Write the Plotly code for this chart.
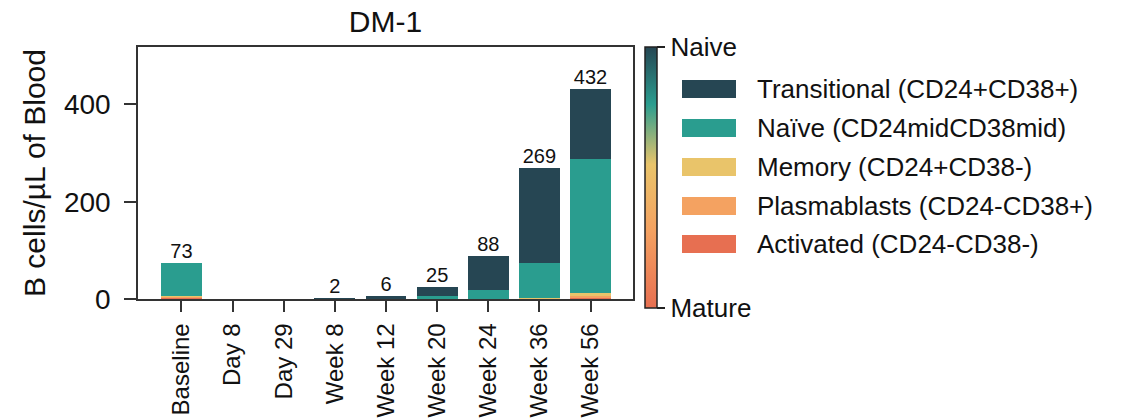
import plotly.graph_objects as go

# Time points and B-cell subset counts (cells/µL of blood)
timepoints = ["Baseline", "Day 8", "Day 29", "Week 8", "Week 12",
              "Week 20", "Week 24", "Week 36", "Week 56"]
activated = [3, 0, 0, 0, 0, 0, 0, 0, 3]
plasmablasts = [3, 0, 0, 0, 0, 0, 0, 0, 5]
memory = [1, 0, 0, 0, 0, 0, 1, 2, 4]
naive = [66, 0, 0, 0, 1, 6, 17, 73, 275]
transitional = [0, 0, 0, 2, 5, 19, 70, 194, 145]

subset_names = ["Activated (CD24-CD38-)", "Plasmablasts (CD24-CD38+)",
                "Memory (CD24+CD38-)", "Naïve (CD24midCD38mid)",
                "Transitional (CD24+CD38+)"]
subset_values = [activated, plasmablasts, memory, naive, transitional]
subset_colors = ["#e76f51", "#f4a261", "#e9c46a", "#2a9d8f", "#264653"]

FONT = "Liberation Sans, Arial, sans-serif"
TXT = "#111111"

# Plot-area edges in pixels
X0, X1, Y0, Y1 = 138, 633, 47, 299


def px(v):
    return (v - X0) / (X1 - X0)


def py(v):
    return 1 - (v - Y0) / (Y1 - Y0)


fig = go.Figure()

# Stacked bars, most mature subset at the bottom
for name, vals, col in zip(subset_names, subset_values, subset_colors):
    fig.add_trace(go.Bar(x=timepoints, y=vals, name=name, marker_color=col,
                         marker_line_width=0, width=0.8, showlegend=False))

# Total count above each non-empty bar
totals = [sum(v) for v in zip(*subset_values)]
lab_x = [t for t, s in zip(timepoints, totals) if s > 0]
lab_y = [s for s in totals if s > 0]
fig.add_trace(go.Scatter(x=lab_x, y=lab_y, mode="text",
                         text=[str(s) for s in lab_y], textposition="top center",
                         textfont=dict(family=FONT, size=20, color=TXT),
                         showlegend=False, hoverinfo="skip"))

# Maturation colour bar (Naive -> Mature)
maturation_scale = [[0.0, "#e76f51"], [0.3, "#f4a261"], [0.55, "#e9c46a"],
                    [0.78, "#2a9d8f"], [1.0, "#264653"]]
fig.add_trace(go.Scatter(
    x=[timepoints[0]], y=[0], mode="markers", showlegend=False, hoverinfo="skip",
    marker=dict(size=0.1, opacity=0, color=[0], cmin=0, cmax=1,
                colorscale=maturation_scale, showscale=True,
                colorbar=dict(x=px(645), xanchor="left",
                              y=py(177.5), yanchor="middle",
                              thickness=12, lenmode="pixels", len=261,
                              xpad=0, ypad=0,
                              outlinecolor="#222", outlinewidth=1.5,
                              tickvals=[0, 1], ticktext=["Mature", "Naive"],
                              ticks="outside", ticklen=8, tickwidth=1.5,
                              tickcolor="#222",
                              tickfont=dict(family=FONT, size=26, color=TXT)))))

# Legend entries: colour swatch and label
legend_order = list(range(len(subset_names)))[::-1]
row_y = [89, 128, 167, 206, 244]
for ry, idx in zip(row_y, legend_order):
    fig.add_shape(type="rect", xref="paper", yref="paper",
                  x0=px(682), x1=px(736), y0=py(ry + 9), y1=py(ry - 9),
                  fillcolor=subset_colors[idx], line_width=0)
    fig.add_annotation(xref="paper", yref="paper", x=px(755), y=py(ry),
                       xanchor="left", yanchor="middle",
                       text=subset_names[idx], showarrow=False,
                       font=dict(family=FONT, size=26, color=TXT))

fig.update_layout(
    width=1124, height=420,
    margin=dict(l=X0, r=1124 - X1, t=Y0, b=420 - Y1),
    barmode="stack", bargap=0.2,
    plot_bgcolor="white", paper_bgcolor="white",
    font=dict(family=FONT, color=TXT),
    title=dict(text="DM-1", x=(X0 + X1) / 2 / 1124, xanchor="center",
               y=1 - 21 / 420, yanchor="middle",
               font=dict(family=FONT, size=30, color=TXT)),
)
fig.update_xaxes(showline=True, linecolor="#333", linewidth=1.5, mirror=True,
                 ticks="outside", ticklen=11, tickwidth=1.5, tickcolor="#333",
                 tickangle=-90, tickfont=dict(family=FONT, size=24, color=TXT),
                 ticklabelstandoff=2,
                 showgrid=False, range=[-0.85, 8.83], automargin=False)
fig.update_yaxes(showline=True, linecolor="#333", linewidth=1.5, mirror=True,
                 ticks="outside", ticklen=12, tickwidth=1.5, tickcolor="#333",
                 tickvals=[0, 200, 400], range=[0, 518],
                 tickfont=dict(family=FONT, size=28, color=TXT),
                 ticklabelstandoff=8,
                 title=dict(text="B cells/µL of Blood", standoff=9,
                            font=dict(family=FONT, size=30, color=TXT)),
                 showgrid=False, zeroline=False, automargin=False)

fig.write_html("out.html")
